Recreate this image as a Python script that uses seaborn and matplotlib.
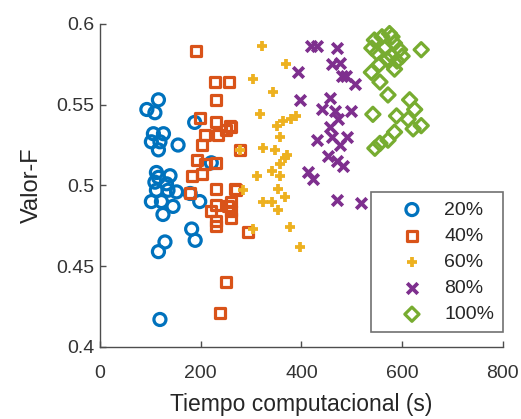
import matplotlib
matplotlib.use("Agg")
import matplotlib.pyplot as plt
import seaborn as sns
import pandas as pd

labels = ["20%", "40%", "60%", "80%", "100%"]

x20 = [116, 93, 109, 188, 106, 126, 102, 119, 155, 116, 221, 112, 116, 139, 109,
       132, 112, 135, 152, 179, 102, 122, 145, 198, 125, 182, 189, 129, 116, 119]
y20 = [0.553, 0.547, 0.545, 0.539, 0.532, 0.532, 0.527, 0.527, 0.525, 0.522, 0.514,
       0.508, 0.505, 0.506, 0.502, 0.501, 0.497, 0.497, 0.496, 0.495, 0.490, 0.490,
       0.487, 0.490, 0.482, 0.473, 0.466, 0.465, 0.459, 0.417]

x40 = [190, 228, 257, 230, 198, 230, 258, 208, 235, 251, 202, 192, 208, 230, 182,
       202, 230, 271, 179, 231, 255, 221, 261, 231, 231, 251, 238, 261, 278, 268,
       261, 261, 294]
y40 = [0.583, 0.564, 0.564, 0.553, 0.542, 0.539, 0.537, 0.531, 0.531, 0.534, 0.525,
       0.516, 0.513, 0.514, 0.506, 0.507, 0.498, 0.497, 0.495, 0.488, 0.487, 0.484,
       0.480, 0.478, 0.475, 0.440, 0.421, 0.536, 0.522, 0.498, 0.490, 0.484, 0.471]

x60 = [322, 370, 304, 344, 317, 351, 380, 390, 364, 357, 278, 324, 347, 367, 371,
       357, 341, 311, 357, 284, 354, 367, 324, 341, 354, 304, 377, 397]
y60 = [0.586, 0.575, 0.566, 0.558, 0.544, 0.537, 0.541, 0.543, 0.540, 0.530, 0.522,
       0.523, 0.522, 0.517, 0.519, 0.513, 0.509, 0.506, 0.506, 0.497, 0.498, 0.493,
       0.490, 0.490, 0.485, 0.473, 0.474, 0.462]

x80 = [420, 430, 470, 394, 460, 476, 480, 489, 506, 397, 456, 440, 466, 499, 472,
       456, 460, 490, 430, 476, 453, 470, 483, 413, 423, 470, 519]
y80 = [0.586, 0.586, 0.585, 0.570, 0.575, 0.576, 0.568, 0.568, 0.563, 0.553, 0.554,
       0.547, 0.546, 0.546, 0.541, 0.536, 0.530, 0.530, 0.528, 0.525, 0.518, 0.515,
       0.512, 0.508, 0.504, 0.491, 0.489]

x100 = [638, 539, 585, 556, 572, 615, 625, 542, 589, 612, 638, 622, 585, 572, 556,
        546, 545, 560, 575, 565, 585, 595, 550, 570, 590, 540, 580, 555, 600, 580]
y100 = [0.584, 0.570, 0.572, 0.564, 0.556, 0.553, 0.547, 0.544, 0.543, 0.541, 0.537,
        0.535, 0.533, 0.528, 0.526, 0.523, 0.590, 0.592, 0.594, 0.585, 0.588, 0.584,
        0.582, 0.578, 0.577, 0.585, 0.580, 0.575, 0.580, 0.592]

xs = [x20, x40, x60, x80, x100]
ys = [y20, y40, y60, y80, y100]

colors = ["#0072BD", "#D95319", "#EDB120", "#7E2F8E", "#77AC30"]
markers = ["o", "s", "P", "X", "D"]

sns.set_theme(style="white")
plt.rcParams["font.family"] = ["Liberation Sans", "DejaVu Sans"]

fig = plt.figure(figsize=(5.21, 4.19), dpi=100)
ax = fig.add_axes([0.192, 0.172, 0.773, 0.771])

axis_col = "#4d4d4d"
handles = []
for lab, x, y, c, m in zip(labels, xs, ys, colors, markers):
    df = pd.DataFrame({"t": x, "f": y})
    if m in ("o", "s", "D"):
        size = {"o": 75, "s": 52, "D": 52}[m]
        sns.scatterplot(data=df, x="t", y="f", ax=ax, marker=m, s=size,
                        facecolor="none", edgecolor=c, linewidth=2.3)
    else:
        mk = "+" if m == "P" else "x"
        sns.scatterplot(data=df, x="t", y="f", ax=ax, marker=mk, s=58,
                        color=c, linewidth=2.7)
    handles.append(ax.collections[-1])

ax.set_xlim(0, 800)
ax.set_ylim(0.4, 0.6)
ax.set_xticks([0, 200, 400, 600, 800])
ax.set_yticks([0.4, 0.45, 0.5, 0.55, 0.6])
ax.set_yticklabels(["0.4", "0.45", "0.5", "0.55", "0.6"])
ax.set_xlabel("Tiempo computacional (s)", fontsize=16.5, color="#262626", labelpad=8)
ax.set_ylabel("Valor-F", fontsize=17, color="#262626", labelpad=10)
ax.tick_params(axis="both", direction="in", length=4, width=1, colors=axis_col,
               labelsize=14, labelcolor="#333333", bottom=True, left=True)
ax.tick_params(axis="x", pad=13)
ax.tick_params(axis="y", pad=4)
sns.despine(ax=ax)
for s in ("left", "bottom"):
    ax.spines[s].set_color(axis_col)
    ax.spines[s].set_linewidth(1.0)

leg = ax.legend(handles, labels, loc="lower right", bbox_to_anchor=(1.0, 0.046),
                borderaxespad=0, fontsize=14, frameon=True, fancybox=False,
                edgecolor=axis_col, handletextpad=0.0, borderpad=0.45,
                labelspacing=0.44, handlelength=3.3)
leg.get_frame().set_linewidth(1.2)

fig.savefig("out.png", dpi=100)
